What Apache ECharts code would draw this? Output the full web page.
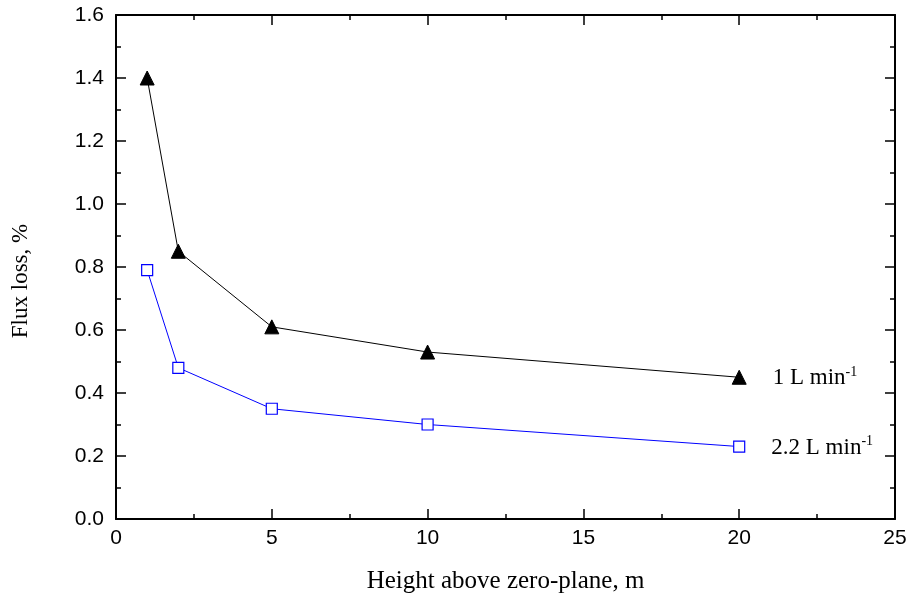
<!DOCTYPE html>
<html><head><meta charset="utf-8">
<script src="https://cdn.jsdelivr.net/npm/echarts@6/dist/echarts.min.js"></script>
<style>html,body{margin:0;padding:0;background:#fff}#c{width:909px;height:597px}</style>
</head><body><div id="c"></div>
<script>
const heights = [1, 2, 5, 10, 20];
const flux1 = [1.40, 0.85, 0.61, 0.53, 0.45];
const flux22 = [0.79, 0.48, 0.35, 0.30, 0.23];
const seriesNames = ['1 L min', '2.2 L min'];

const chart = echarts.init(document.getElementById('c'));
function axisCommon() {
  return {
    axisLine: {show: true, onZero: false, lineStyle: {color: '#000', width: 2}},
    axisTick: {show: true, inside: true, length: 10, lineStyle: {color: '#000', width: 1.5}},
    minorTick: {show: true, splitNumber: 2, length: 5, lineStyle: {color: '#000', width: 1.5}},
    splitLine: {show: false}
  };
}
function mk(xs, ys) { return xs.map((x, i) => [x, ys[i]]); }
function lastLabel(arr, name) {
  return arr.map((p, i) => i === arr.length - 1 ? {
    value: p,
    label: {show: true, position: 'right', distance: 26, offset: [0, 1], formatter: '{a|' + name + '}{s|-1}',
      rich: {a: {fontFamily: 'Liberation Serif', fontSize: 23, color: '#000'},
             s: {fontFamily: 'Liberation Serif', fontSize: 14, color: '#000', verticalAlign: 'top', padding: [0,0,12,0]}}}
  } : p);
}
chart.setOption({
  animation: false,
  grid: {left: 116, right: 14, top: 15, bottom: 78, containLabel: false, outerBoundsMode: 'none'},
  xAxis: [
    Object.assign({type: 'value', min: 0, max: 25, interval: 5, position: 'bottom',
      name: 'Height above zero-plane, m', nameLocation: 'middle', nameGap: 50,
      nameTextStyle: {fontFamily: 'Liberation Serif', fontSize: 25, color: '#000'},
      axisLabel: {fontFamily: 'Liberation Sans', fontSize: 21, color: '#000', margin: 9}}, axisCommon()),
    Object.assign({type: 'value', min: 0, max: 25, interval: 5, position: 'top',
      axisLabel: {show: false}}, axisCommon())
  ],
  yAxis: [
    Object.assign({type: 'value', min: 0, max: 1.6, interval: 0.2, position: 'left',
      name: 'Flux loss, %', nameLocation: 'middle', nameGap: 84, nameRotate: 90,
      nameTextStyle: {fontFamily: 'Liberation Serif', fontSize: 23, color: '#000', padding: [0, 28, 0, 0]},
      axisLabel: {fontFamily: 'Liberation Sans', fontSize: 21, color: '#000', margin: 12,
        formatter: v => v.toFixed(1)}}, axisCommon()),
    Object.assign({type: 'value', min: 0, max: 1.6, interval: 0.2, position: 'right',
      axisLabel: {show: false}}, axisCommon())
  ],
  series: [
    {type: 'line', name: seriesNames[0], data: lastLabel(mk(heights, flux1), seriesNames[0]),
      symbol: 'triangle', symbolSize: 14, lineStyle: {color: '#000', width: 1},
      itemStyle: {color: '#000', borderColor: '#000'}},
    {type: 'line', name: seriesNames[1], data: lastLabel(mk(heights, flux22), seriesNames[1]),
      symbol: 'rect', symbolSize: 11, lineStyle: {color: '#0000ff', width: 1},
      itemStyle: {color: '#fff', borderColor: '#0000ff', borderWidth: 1.2}}
  ]
});
</script></body></html>
